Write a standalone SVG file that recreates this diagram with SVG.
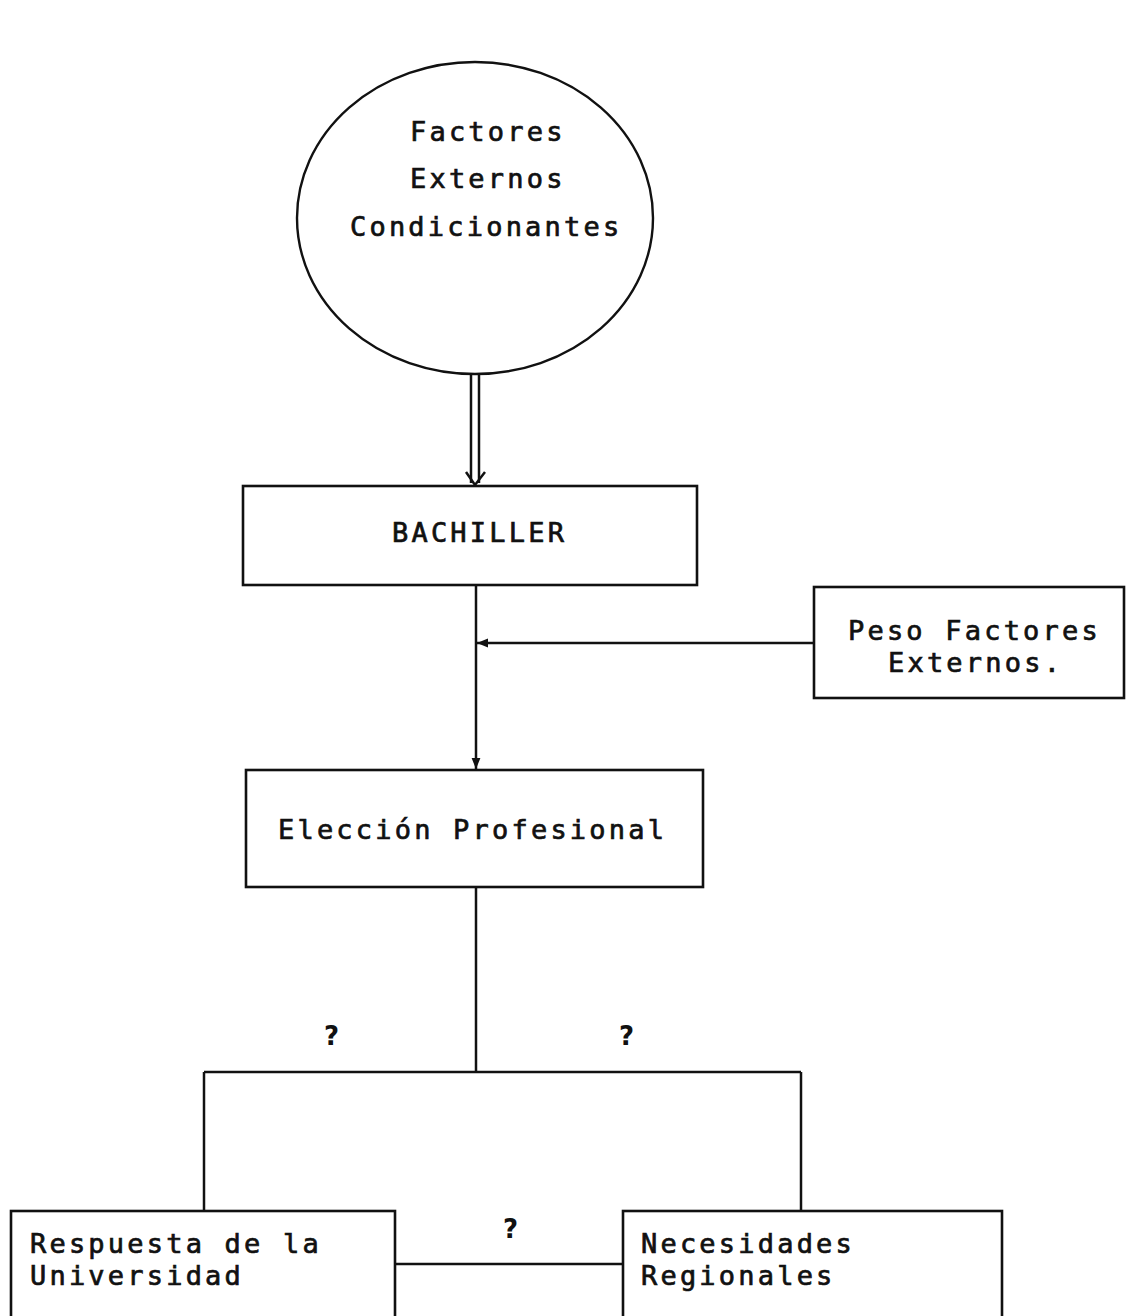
<svg xmlns="http://www.w3.org/2000/svg" width="1126" height="1316" viewBox="0 0 1126 1316">
<defs>
<style>
.box{fill:#fff;stroke:#111;stroke-width:2.6}
.ln{fill:none;stroke:#111;stroke-width:2.5}
.t{font-family:"DejaVu Sans Mono","Liberation Mono",monospace;font-size:27px;letter-spacing:3.2px;fill:#111;stroke:#111;stroke-width:0.7}
.q{font-family:"DejaVu Sans","Liberation Sans",sans-serif;font-size:26px;font-weight:bold;fill:#111}
</style>
<marker id="ah" viewBox="0 0 10 10" refX="10" refY="5" markerWidth="11" markerHeight="11" markerUnits="userSpaceOnUse" orient="auto">
<path d="M0,1 L10,5 L0,9 z" fill="#111"/>
</marker>
</defs>
<rect width="1126" height="1316" fill="#fff"/>
<g id="connectors">
<line class="ln" x1="471" y1="373" x2="471" y2="483"/>
<line class="ln" x1="479" y1="373" x2="479" y2="483"/>
<polyline class="ln" points="466,472 475,485 485,472"/>
<line class="ln" x1="476" y1="585" x2="476" y2="769" marker-end="url(#ah)"/>
<line class="ln" x1="814" y1="643" x2="477" y2="643" marker-end="url(#ah)"/>
<line class="ln" x1="476" y1="887" x2="476" y2="1072"/>
<line class="ln" x1="204" y1="1072" x2="801" y2="1072"/>
<line class="ln" x1="204" y1="1072" x2="204" y2="1211"/>
<line class="ln" x1="801" y1="1072" x2="801" y2="1211"/>
<line class="ln" x1="395" y1="1264" x2="623" y2="1264"/>
<text class="q" x="324" y="1045">?</text>
<text class="q" x="619" y="1045">?</text>
<text class="q" x="503" y="1238">?</text>
</g>
<g id="factores">
<ellipse cx="475" cy="218" rx="178" ry="156" fill="#fff" stroke="#111" stroke-width="2.4"/>
<text class="t" x="410" y="141">Factores</text>
<text class="t" x="410" y="188">Externos</text>
<text class="t" x="350" y="236">Condicionantes</text>
</g>
<g id="bachiller">
<rect class="box" x="243" y="486" width="454" height="99"/>
<text class="t" x="392" y="542">BACHILLER</text>
</g>
<g id="peso">
<rect class="box" x="814" y="587" width="310" height="111"/>
<text class="t" x="848" y="640">Peso Factores</text>
<text class="t" x="888" y="672">Externos.</text>
</g>
<g id="eleccion">
<rect class="box" x="246" y="770" width="457" height="117"/>
<text class="t" x="278" y="839">Elección Profesional</text>
</g>
<g id="respuesta">
<rect class="box" x="11" y="1211" width="384" height="125"/>
<text class="t" x="30" y="1253">Respuesta de la</text>
<text class="t" x="30" y="1285">Universidad</text>
</g>
<g id="necesidades">
<rect class="box" x="623" y="1211" width="379" height="125"/>
<text class="t" x="641" y="1253">Necesidades</text>
<text class="t" x="641" y="1285">Regionales</text>
</g>
</svg>
